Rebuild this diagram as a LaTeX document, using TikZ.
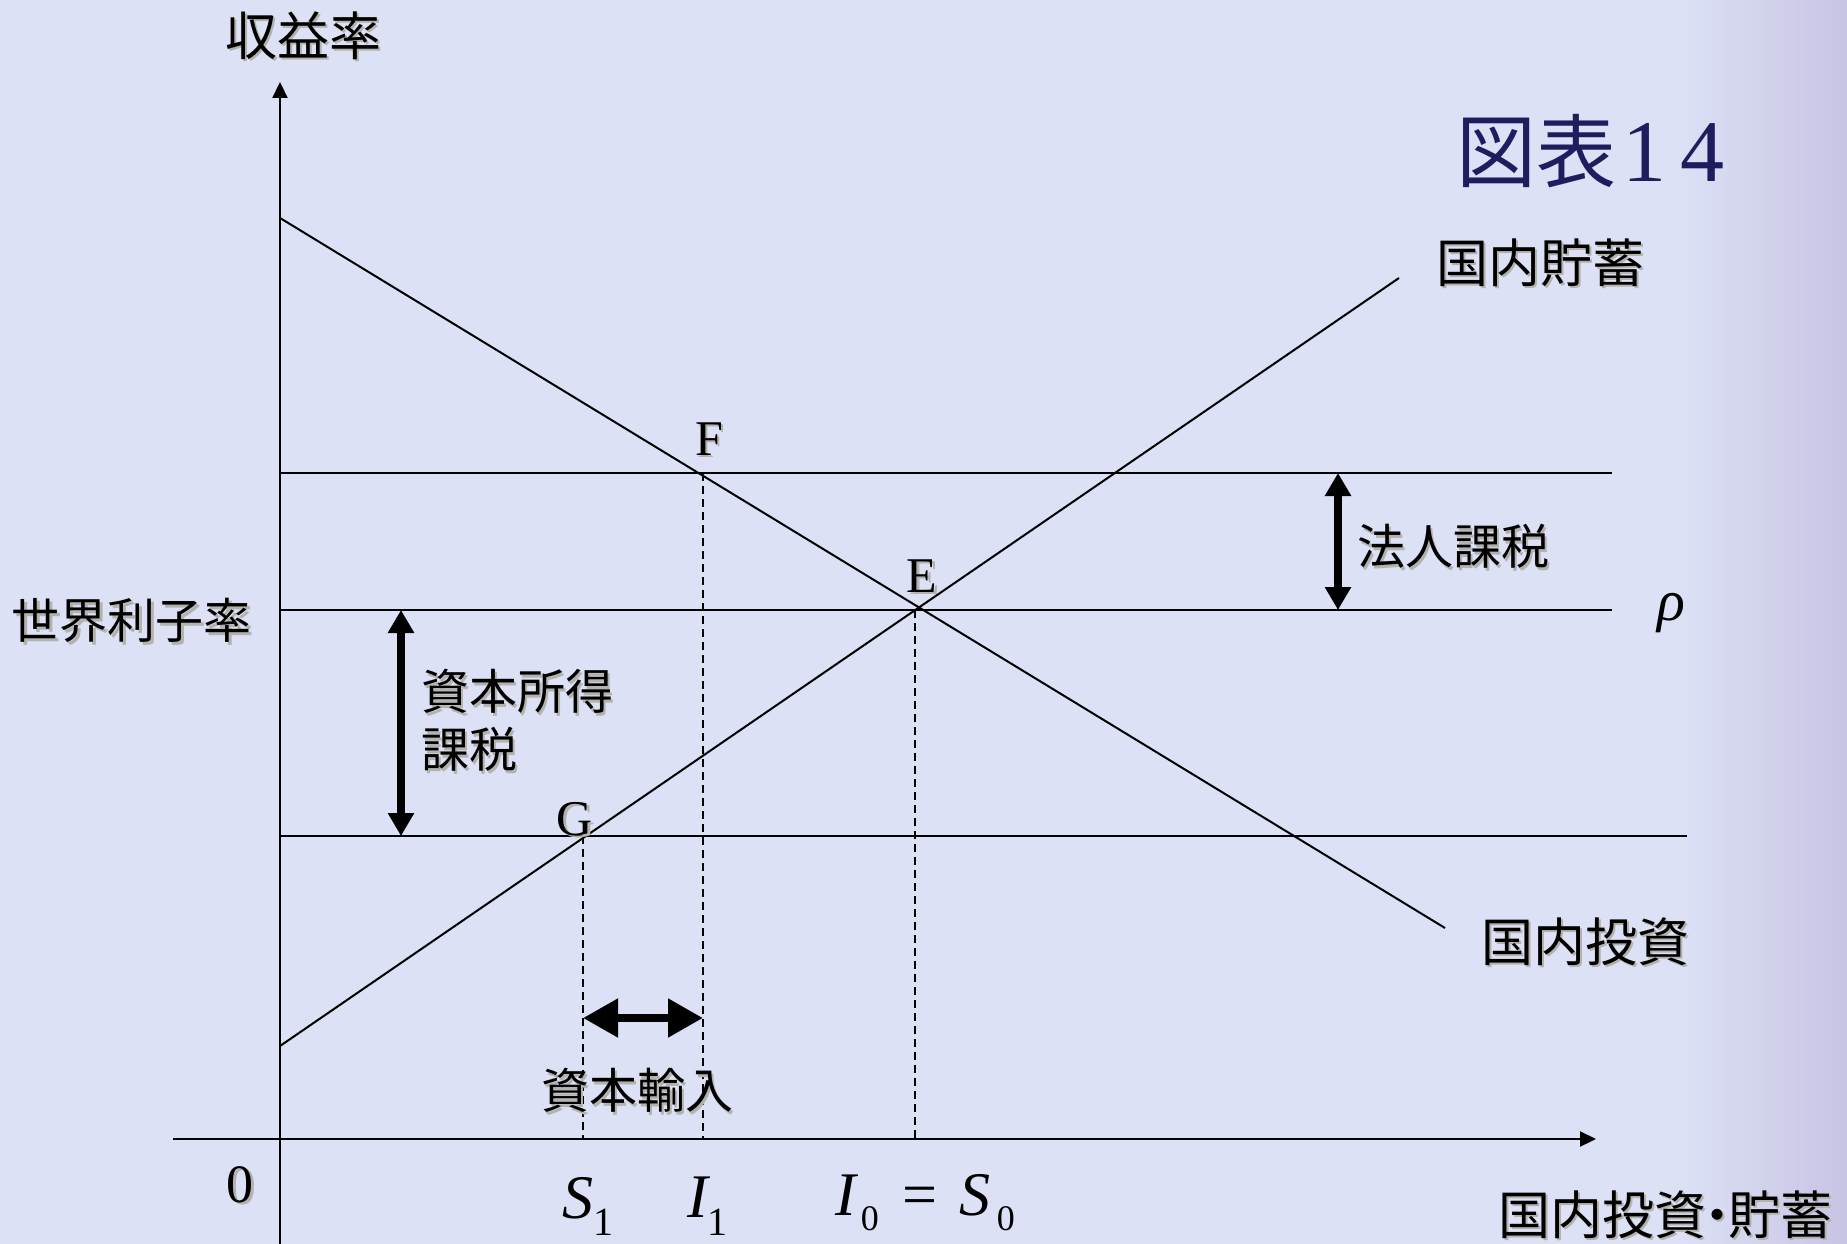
\documentclass[tikz,border=0pt]{standalone}
\usepackage{fontspec}
\setmainfont{Liberation Serif}
\newfontfamily\jp{Noto Sans CJK JP}
\usetikzlibrary{arrows.meta}
\definecolor{bgc}{RGB}{220,225,246}
\definecolor{bgr}{RGB}{200,196,228}
\definecolor{shc}{RGB}{180,178,172}
\definecolor{navy}{RGB}{30,30,95}
\newcommand\shd[1]{\leavevmode\rlap{\kern2.5pt\raisebox{-2.5pt}{\textcolor{shc}{#1}}}#1}
\begin{document}
\begin{tikzpicture}[x=1pt,y=-1pt,
  jplabel/.style={font=\jp\fontsize{48}{58}\selectfont, inner sep=0pt},
  jpbig/.style={font=\jp\fontsize{52}{58}\selectfont, inner sep=0pt},
  ltr/.style={font=\fontsize{50}{50}\selectfont, inner sep=0pt, anchor=base},
  mathlbl/.style={font=\fontsize{62}{62}\selectfont, inner sep=0pt, anchor=base west},
  thinline/.style={line width=2pt},
  axisline/.style={line width=2.2pt, -{Triangle[length=16pt,width=15pt]}},
  guide/.style={line width=1.6pt, dash pattern=on 8pt off 5pt},
  vtaxarrow/.style={line width=8pt, {Triangle[length=23pt,width=25pt]}-{Triangle[length=23pt,width=25pt]}},
  htaxarrow/.style={line width=8pt, {Triangle[length=35pt,width=37pt]}-{Triangle[length=35pt,width=37pt]}}]
% background
\fill[bgc] (0,0) rectangle (1847,1244);
\shade[left color=bgc, right color=bgr] (1680,0) rectangle (1847,1244);
\useasboundingbox (0,0) rectangle (1847,1244);

% coordinates
\coordinate (ytop) at (280,82);
\coordinate (ybot) at (280,1244);
\coordinate (xl) at (173,1139);
\coordinate (xr) at (1596,1139);
\coordinate (Istart) at (280,218);
\coordinate (Iend) at (1445,928);
\coordinate (Sstart) at (280,1046);
\coordinate (Send) at (1399,278);
\coordinate (hF0) at (280,473);
\coordinate (hF1) at (1612,473);
\coordinate (rho0) at (280,610);
\coordinate (rho1) at (1612,610);
\coordinate (hG0) at (280,836);
\coordinate (hG1) at (1687,836);
\coordinate (Gtop) at (583,836);
\coordinate (Gbot) at (583,1139);
\coordinate (Ftop) at (703,473);
\coordinate (Fbot) at (703,1139);
\coordinate (Etop) at (915,610);
\coordinate (Ebot) at (915,1139);
\coordinate (ctaxT) at (1338,473);
\coordinate (ctaxB) at (1338,610);
\coordinate (ktaxT) at (401,610);
\coordinate (ktaxB) at (401,836);
\coordinate (impL) at (583,1018);
\coordinate (impR) at (703,1018);

% axes
\draw[axisline] (ybot) -- (ytop);
\draw[axisline] (xl) -- (xr);

% curves and levels
\draw[thinline] (Istart) -- (Iend);
\draw[thinline] (Sstart) -- (Send);
\draw[thinline] (hF0) -- (hF1);
\draw[thinline] (rho0) -- (rho1);
\draw[thinline] (hG0) -- (hG1);

% guides
\draw[guide] (Gtop) -- (Gbot);
\draw[guide] (Ftop) -- (Fbot);
\draw[guide] (Etop) -- (Ebot);

% thick arrows
\draw[vtaxarrow] (ctaxT) -- (ctaxB);
\draw[vtaxarrow] (ktaxT) -- (ktaxB);
\draw[htaxarrow] (impL) -- (impR);

% title
\node[inner sep=0pt, text=navy, anchor=base west] (title) at (1456,182)
  {{\jp\fontsize{80}{80}\selectfont 図表}\kern6pt{\fontsize{88}{88}\selectfont 1\kern14pt 4}};

% Japanese labels
\node[jpbig] (ylab) at (303,37) {\shd{収益率}};
\node[jpbig] (slab) at (1540,264) {\shd{国内貯蓄}};
\node[jplabel] (ctaxlab) at (1453,548) {\shd{法人課税}};
\node[jplabel] (wlab) at (132,622) {\shd{世界利子率}};
\node[jplabel, anchor=north west, align=left] (ktaxlab) at (421,669) {\shd{資本所得}\\\shd{課税}};
\node[jplabel] (implab) at (637,1092) {\shd{資本輸入}};
\node[jpbig] (ilab) at (1585,943) {\shd{国内投資}};
\node[jpbig] (xlab) at (1665,1216) {\shd{国内投資\kern-15pt・\kern-15pt貯蓄}};

% point labels
\node[ltr] (Flab) at (709,455) {\shd{F}};
\node[ltr] (Elab) at (922,592) {\shd{E}};
\node[ltr] (Glab) at (575,835) {\shd{G}};
\node[ltr, font=\fontsize{54}{54}\selectfont] (zero) at (240,1202) {\shd{0}};
\node[inner sep=0pt, font=\fontsize{58}{58}\selectfont\itshape] (rho) at (1671,613) {ρ};

% axis values
\node[mathlbl] (S1) at (562,1218) {{\itshape S}\kern0pt\raisebox{-17pt}{\fontsize{40}{40}\selectfont 1}};
\node[mathlbl] (I1) at (687,1217) {{\itshape I}\kern0pt\raisebox{-18pt}{\fontsize{40}{40}\selectfont 1}};
\node[mathlbl] (IS0) at (835,1215) {{\itshape I}\kern5pt\raisebox{-15pt}{\fontsize{36}{36}\selectfont 0}\kern24pt=\kern22pt{\itshape S}\kern6pt\raisebox{-15pt}{\fontsize{36}{36}\selectfont 0}};
\end{tikzpicture}
\end{document}
